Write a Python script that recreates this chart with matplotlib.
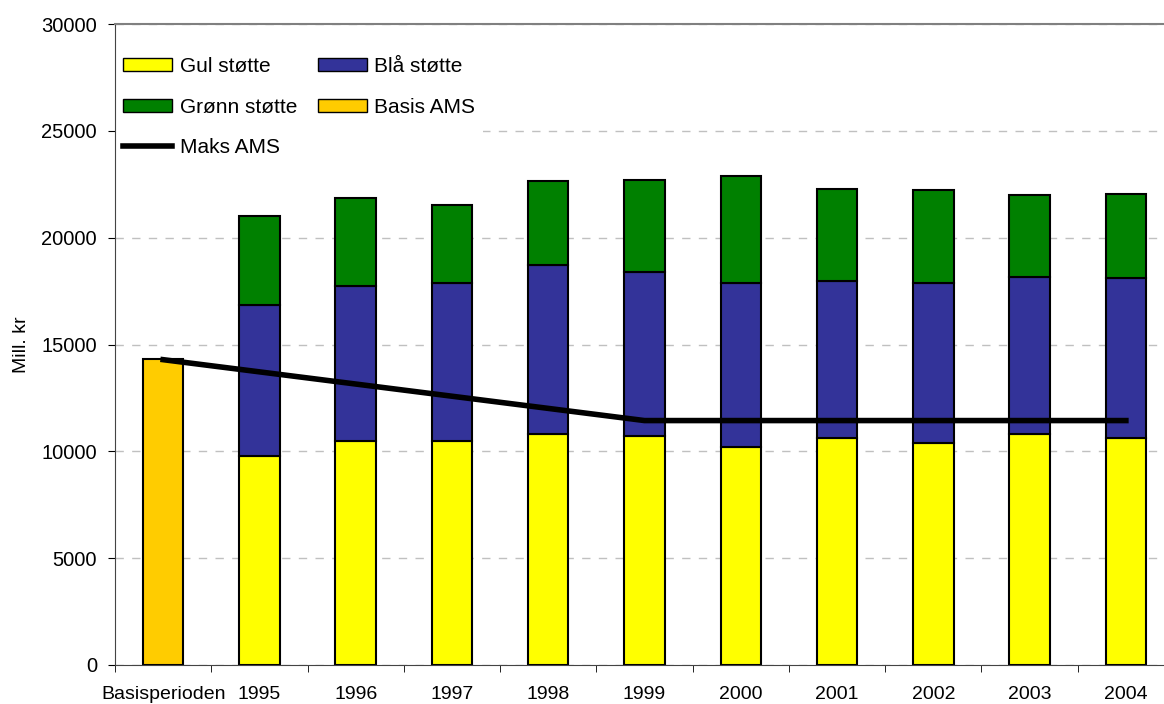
import matplotlib.pyplot as plt
import numpy as np
from matplotlib.patches import Patch
from matplotlib.lines import Line2D

plt.rcParams['font.family'] = ['Liberation Sans', 'DejaVu Sans']

categories = ['Basisperioden', '1995', '1996', '1997', '1998', '1999',
              '2000', '2001', '2002', '2003', '2004']
basis_ams = 14300
gul = [9780, 10480, 10480, 10810, 10715, 10200, 10620, 10390, 10810, 10620]
blaa_top = [16850, 17735, 17875, 18720, 18390, 17875, 17970, 17875, 18160, 18110]
groenn_top = [21010, 21850, 21525, 22650, 22700, 22880, 22275, 22230, 21990, 22040]
maks_ams = [14290, 13720, 13150, 12580, 12010, 11440, 11440, 11440, 11440, 11440, 11440]

blaa = [b - g for b, g in zip(blaa_top, gul)]
groenn = [t - b for t, b in zip(groenn_top, blaa_top)]

fig = plt.figure(figsize=(11.64, 7.04), dpi=100)
# plot area runs a little past the right edge of the picture, as in the original
ax = fig.add_axes([0.0988, 0.0554, 0.9098, 0.9105])

x = np.arange(len(categories))
xy = x[1:]
w = 0.42
edge = dict(edgecolor='black', linewidth=1.5, zorder=3)

ax.bar(x[0], basis_ams, w, color='#FFCC00', **edge)
ax.bar(xy, gul, w, color='#FFFF00', **edge)
ax.bar(xy, blaa, w, bottom=gul, color='#333399', **edge)
ax.bar(xy, groenn, w, bottom=blaa_top, color='#008000', **edge)
ax.plot(x, maks_ams, color='black', linewidth=4, zorder=4)

ax.set_xlim(-0.5, len(categories) - 0.5)
ax.set_ylim(0, 30000)
ax.set_yticks(range(0, 30001, 5000))
ax.set_xticks(x)
ax.set_xticklabels(categories)
ax.set_xticks(np.arange(-0.5, len(categories)), minor=True)
ax.tick_params(axis='x', which='major', length=0, pad=15, labelsize=14)
ax.tick_params(axis='x', which='minor', length=5, direction='out')
ax.tick_params(axis='y', length=5, labelsize=14.5, pad=8)
ax.set_ylabel('Mill. kr', fontsize=14, labelpad=8)

ax.yaxis.grid(True, linestyle=(0, (6, 6)), color='#C0C0C0', linewidth=1)
ax.set_axisbelow(True)
ax.spines['right'].set_visible(False)
ax.spines['top'].set_color('#808080')
ax.spines['top'].set_linewidth(1.5)
ax.spines['left'].set_color('#444444')
ax.spines['bottom'].set_color('#444444')
for s in ax.spines.values():
    s.set_zorder(6)

handles = [
    Patch(facecolor='#FFFF00', edgecolor='black', label='Gul støtte'),
    Patch(facecolor='#008000', edgecolor='black', label='Grønn støtte'),
    Line2D([], [], color='black', linewidth=4, label='Maks AMS'),
    Patch(facecolor='#333399', edgecolor='black', label='Blå støtte'),
    Patch(facecolor='#FFCC00', edgecolor='black', label='Basis AMS'),
]
leg = ax.legend(handles=handles, ncol=2, loc='upper left', bbox_to_anchor=(0.0, 0.962),
                frameon=True, fontsize=15, handlelength=2.35, handleheight=0.6,
                handletextpad=0.35, columnspacing=1.0, labelspacing=1.05,
                borderaxespad=0.0, borderpad=0.4)
leg.get_frame().set_edgecolor('none')
leg.get_frame().set_facecolor('white')
leg.get_frame().set_alpha(1)
leg.set_zorder(5)

fig.savefig('out.png', dpi=100)
